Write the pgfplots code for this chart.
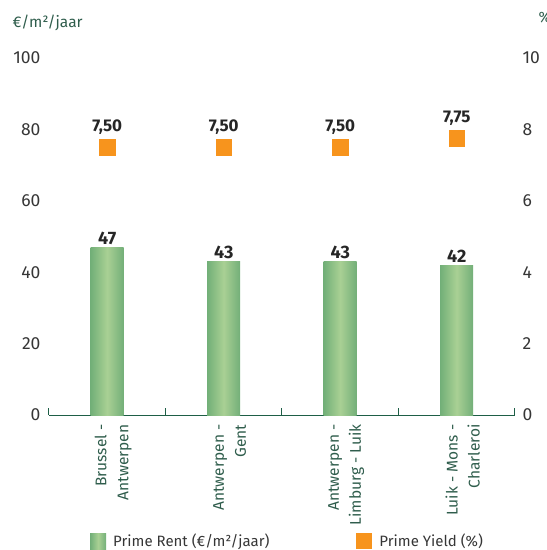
\documentclass[border=0pt]{standalone}
\usepackage{pgfplots}
\pgfplotsset{compat=1.18}
\usepackage{fontspec}
\setmainfont{Fira Sans}

\definecolor{axisgreen}{HTML}{1E5E46}
\definecolor{labelgreen}{HTML}{2F5D4C}
\definecolor{barmid}{HTML}{A9D094}
\definecolor{baredge}{HTML}{72AF78}
\definecolor{yieldorange}{HTML}{F7941D}
\definecolor{ticktext}{HTML}{363636}

\pgfplotsset{
  twin/.style={
    at={(0,0)}, anchor=south west,
    scale only axis, width=466pt, height=357pt,
    xmin=-0.5, xmax=3.5, clip=false,
    /pgf/number format/assume math mode=true,
    tick label style={font=\fontsize{17.5}{20}\selectfont, text=ticktext},
  },
  rentbar/.style={ybar, bar width=33pt, bar shift=0pt, draw=none,
    left color=baredge, right color=baredge, middle color=barmid,
    nodes near coords,
    nodes near coords style={anchor=south, inner sep=2pt, text=black!85,
      font=\fontsize{18}{20}\selectfont\bfseries}},
}

\begin{document}
\begin{tikzpicture}
% Prime rent (left axis)
\begin{axis}[
  twin,
  ymin=0, ymax=100,
  axis x line*=bottom, axis y line*=left,
  x axis line style={axisgreen, line width=1pt},
  y axis line style={draw=none},
  ytick={0,20,...,100},
  xtick={0,1,2,3},
  xticklabels={{Brussel -\\Antwerpen},{Antwerpen -\\Gent},{Antwerpen -\\Limburg - Luik},{Luik - Mons -\\Charleroi}},
  xticklabel style={rotate=90, anchor=east, align=right, text=labelgreen,
    font=\fontsize{15.5}{22}\selectfont, xshift=-6pt, yshift=-6pt},
  minor xtick={-0.5,0.5,1.5,2.5,3.5},
  major tick length=0pt, minor tick length=7pt,
  tick align=inside,
  every minor tick/.style={axisgreen, line width=1pt},
  yticklabel style={xshift=-5pt},
  legend columns=2,
  legend cell align=left,
  legend style={at={(0,0)}, anchor=west, xshift=38pt, yshift=-126pt,
    draw=none, fill=none, font=\fontsize{15}{18}\selectfont, text=ticktext,
    nodes={inner xsep=7pt},
    /tikz/every even column/.append style={column sep=80pt}},
]
\addlegendimage{legend image code/.code={\shade[draw=none, left color=baredge, right color=baredge, middle color=barmid] (0pt,-8pt) rectangle (16pt,8pt);}}
\addlegendentry{Prime Rent (€/m²/jaar)}
\addlegendimage{legend image code/.code={\path[draw=none, fill=yieldorange] (0pt,-8pt) rectangle (16pt,8pt);}}
\addlegendentry{Prime Yield (\%)}
% one plot per bar so that each bar carries its own shading
\addplot[rentbar] coordinates {(0,47)};
\addplot[rentbar] coordinates {(1,43)};
\addplot[rentbar] coordinates {(2,43)};
\addplot[rentbar] coordinates {(3,42)};
\node[anchor=west, text=labelgreen, font=\fontsize{15.5}{18}\selectfont]
  at (rel axis cs:0,1) [xshift=-40pt, yshift=35pt] {€/m²/jaar};
\end{axis}

% Prime yield (right axis)
\begin{axis}[
  twin,
  ymin=0, ymax=10,
  axis x line=none, axis y line*=right,
  y axis line style={draw=none},
  ytick={0,2,...,10},
  major tick length=0pt,
  yticklabel style={xshift=4pt},
]
\addplot[only marks, mark=square*, mark size=7.8pt, color=yieldorange,
  point meta=y,
  nodes near coords={\pgfmathprintnumber[fixed, fixed zerofill, precision=2, use comma]{\pgfplotspointmeta}},
  nodes near coords style={anchor=south, inner sep=2pt, yshift=11pt, text=black!85,
    font=\fontsize{17}{20}\selectfont\bfseries}]
  coordinates {(0,7.50) (1,7.50) (2,7.50) (3,7.75)};
\node[anchor=west, text=labelgreen, font=\fontsize{15}{18}\selectfont]
  at (rel axis cs:1,1) [xshift=20pt, yshift=41pt] {\%};
\end{axis}

\pgfresetboundingbox
\path[use as bounding box] (-49pt,-135pt) rectangle (498pt,415pt);
\end{tikzpicture}
\end{document}
